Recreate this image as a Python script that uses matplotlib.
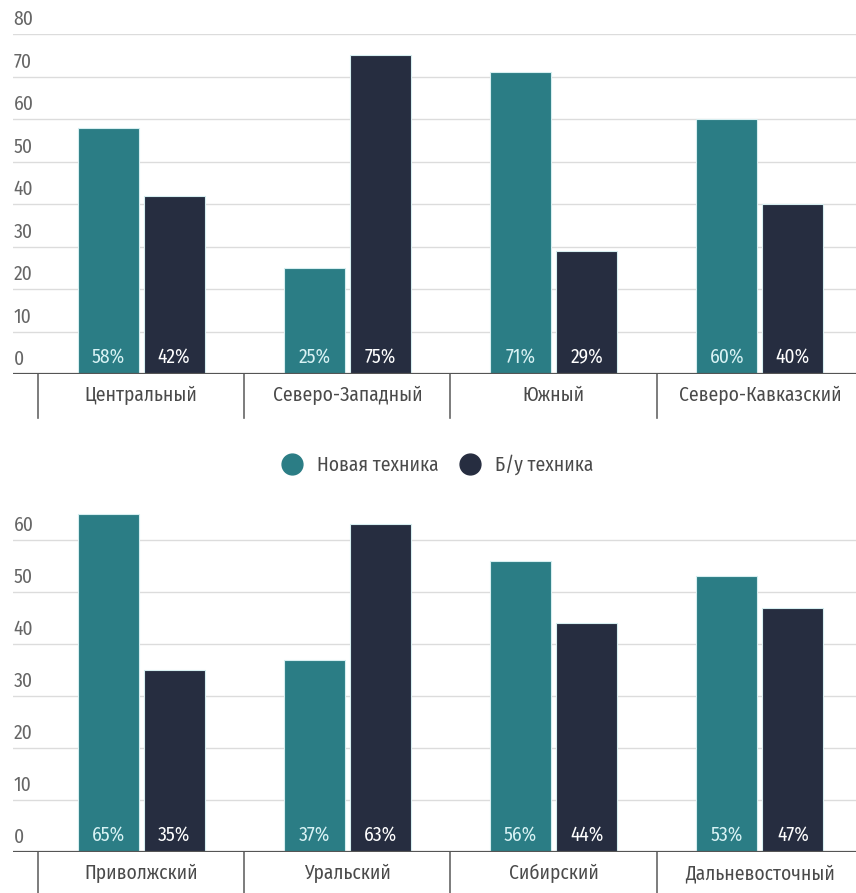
import matplotlib
matplotlib.use("Agg")
import matplotlib.pyplot as plt
from matplotlib.lines import Line2D
from matplotlib.transforms import blended_transform_factory

plt.rcParams['font.family'] = ['Fira Sans Condensed', 'DejaVu Sans']

# Data
regions_top = ["Центральный", "Северо-Западный", "Южный", "Северо-Кавказский"]
new_top = [58, 25, 71, 60]
used_top = [42, 75, 29, 40]

regions_bottom = ["Приволжский", "Уральский", "Сибирский", "Дальневосточный"]
new_bottom = [65, 37, 56, 53]
used_bottom = [35, 63, 44, 47]

series_names = ["Новая техника", "Б/у техника"]
yticks_top = [0, 10, 20, 30, 40, 50, 60, 70, 80]
yticks_bottom = [0, 10, 20, 30, 40, 50, 60]

TEAL = "#2b7d85"
NAVY = "#262d40"
EDGE = "#d6eef0"
GRID = "#dcdcdc"
TEXT = "#4a4a4a"

W, H = 856, 893
fig = plt.figure(figsize=(W / 100, H / 100), dpi=100)


def px_box(left, top, right, bottom):
    return [left / W, 1 - bottom / H, (right - left) / W, (bottom - top) / H]


def draw_panel(ax, cats, new, used, yticks, ylim, sep_len):
    n = len(cats)
    xs = list(range(n))
    bw = 0.295
    off = 0.16
    ax.bar([x - off for x in xs], new, width=bw, color=TEAL,
           edgecolor=EDGE, linewidth=0.8, zorder=3)
    ax.bar([x + off for x in xs], used, width=bw, color=NAVY,
           edgecolor=EDGE, linewidth=0.8, zorder=3)
    ax.set_xlim(-0.621, 3.466)
    ax.set_ylim(*ylim)
    for s in ax.spines.values():
        s.set_visible(False)
    ax.set_xticks([])
    ax.set_yticks([])
    # horizontal grid lines and labels above them
    for v in yticks:
        if v == 0:
            ax.axhline(0, color="#555555", lw=1.6, zorder=4)
        else:
            ax.axhline(v, color=GRID, lw=1.0, zorder=1)
        ax.annotate(str(v), xy=(0.0, v), xycoords=("axes fraction", "data"),
                    xytext=(0.5, 3.5), textcoords="offset points",
                    ha="left", va="bottom", fontsize=14, color="#666666")
    # value labels inside bars
    for x, a, b in zip(xs, new, used):
        ax.annotate(f"{a}%", xy=(x - off, 0), xytext=(0, 12),
                    textcoords="offset points", ha="center", va="center",
                    fontsize=14, color="#d8f2f4", zorder=5)
        ax.annotate(f"{b}%", xy=(x + off, 0), xytext=(0, 12),
                    textcoords="offset points", ha="center", va="center",
                    fontsize=14, color="white", zorder=5)
    # category separators and names under the baseline
    trans = blended_transform_factory(ax.transData, ax.transAxes)
    for x in xs:
        ax.plot([x - 0.5, x - 0.5], [0, -sep_len], transform=trans,
                color="#666666", lw=1.2, clip_on=False)
        ax.annotate(cats[x], xy=(x, 0), xytext=(0, -15.5),
                    textcoords="offset points", ha="center", va="center",
                    fontsize=14, color=TEXT)


ax1 = fig.add_axes(px_box(13, 34, 856, 374))
draw_panel(ax1, regions_top, new_top, used_top, yticks_top, (0, 80), 0.13)

ax2 = fig.add_axes(px_box(13, 488, 856, 852))
draw_panel(ax2, regions_bottom, new_bottom, used_bottom, yticks_bottom, (0, 70), 0.115)

handles = [
    Line2D([], [], marker="o", linestyle="none", markersize=15,
           markerfacecolor=TEAL, markeredgecolor=TEAL),
    Line2D([], [], marker="o", linestyle="none", markersize=15,
           markerfacecolor=NAVY, markeredgecolor=NAVY),
]
fig.legend(handles, series_names, loc="center", ncol=2,
           bbox_to_anchor=(433 / W, 1 - 465 / H), frameon=False,
           fontsize=14, handletextpad=0.3, columnspacing=0.6,
           labelcolor=TEXT)

fig.savefig("out.png", dpi=100)
